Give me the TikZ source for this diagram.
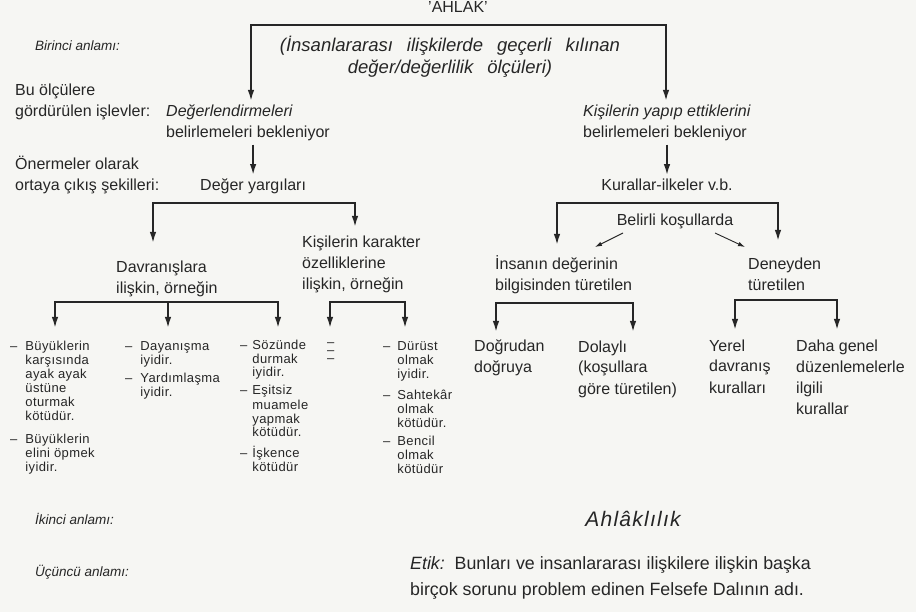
\documentclass[tikz,border=0pt]{standalone}
\usepackage{fontspec}
\setmainfont{Liberation Sans}
\newfontfamily\listfont[LetterSpace=3]{Liberation Sans}
\newfontfamily\wideitalic[LetterSpace=6]{Liberation Sans Italic}
\usetikzlibrary{arrows.meta}
\definecolor{paper}{RGB}{246,246,243}
\definecolor{ink}{RGB}{38,38,38}
\newcommand\widespace{\spaceskip=14pt\relax}

\begin{document}
\begin{tikzpicture}[x=1pt,y=-1pt,
  lbl/.style={inner sep=0pt,anchor=base west,align=left,text=ink,font=\fontsize{16}{21}\selectfont},
  ital/.style={lbl,font=\fontsize{13.5}{21}\selectfont\itshape},
  lst/.style={inner sep=0pt,anchor=base west,text=ink,font=\listfont\fontsize{13}{14}\selectfont},
  arr/.style={draw=ink,line width=1.8pt,-{Latex[length=11pt,width=6.5pt]}},
  thin/.style={draw=ink,line width=0.9pt,-{Latex[length=7pt,width=4.5pt]}}]
\fill[paper] (0,0) rectangle (916,612);
\useasboundingbox (0,0) rectangle (916,612);

% labels on the left
\node(birinci)[ital] at (35,51){Birinci anlamı:};
\node(islev)[lbl] at (15,117){Bu ölçülere\\gördürülen işlevler:};
\node(onerme)[lbl] at (15,191){Önermeler olarak\\ortaya çıkış şekilleri:};
\node(ikinci)[ital] at (35,524){İkinci anlamı:};
\node(ucuncu)[ital] at (35,576){Üçüncü anlamı:};

% first meaning
\node(ahlak)[lbl,anchor=base] at (458,13){'AHLÂK'};
\node(tanim)[lbl,anchor=base,align=center,font=\fontsize{18.5}{22}\selectfont\itshape\widespace] at (450,74){(İnsanlararası ilişkilerde geçerli kılınan\\değer/değerlilik ölçüleri)};
\node(degerl)[lbl] at (166,138){\textit{Değerlendirmeleri}\\belirlemeleri bekleniyor};
\node(kisiyap)[lbl] at (583,138){\textit{Kişilerin yapıp ettiklerini}\\belirlemeleri bekleniyor};
\node(deger)[lbl] at (200,191){Değer yargıları};
\node(kurallar)[lbl,anchor=base] at (667,191){Kurallar-ilkeler v.b.};

% value judgements
\node(davr)[lbl] at (116,294){Davranışlara\\ilişkin, örneğin};
\node(kisikar)[lbl] at (302,290){Kişilerin karakter\\özelliklerine\\ilişkin, örneğin};
\node(col1)[lst] at (10,351){\begin{tabular}[t]{@{}l@{\hspace{8pt}}l@{}}
– & Büyüklerin\\ & karşısında\\ & ayak ayak\\ & üstüne\\ & oturmak\\ & kötüdür.\\[9pt]
– & Büyüklerin\\ & elini öpmek\\ & iyidir.\end{tabular}};
\node(col2)[lst] at (125,351){\begin{tabular}[t]{@{}l@{\hspace{8pt}}l@{}}
– & Dayanışma\\ & iyidir.\\[4pt]
– & Yardımlaşma\\ & iyidir.\end{tabular}};
\node(col3)[lst] at (240,349){\begin{tabular}[t]{@{}l@{\hspace{5pt}}l@{}}
– & Sözünde\\ & durmak\\ & iyidir.\\[4pt]
– & Eşitsiz\\ & muamele\\ & yapmak\\ & kötüdür.\\[5pt]
– & İşkence\\ & kötüdür\end{tabular}};
\node(col4)[lst] at (327,347){\begin{tabular}[t]{@{}l@{}}–\\[-6pt]–\\[-6pt]–\end{tabular}};
\node(col5)[lst] at (383,351){\begin{tabular}[t]{@{}l@{\hspace{7pt}}l@{}}
– & Dürüst\\ & olmak\\ & iyidir.\\[7pt]
– & Sahtekâr\\ & olmak\\ & kötüdür.\\[4pt]
– & Bencil\\ & olmak\\ & kötüdür\end{tabular}};

% rules
\node(belirli)[lbl,anchor=base] at (675,226){Belirli koşullarda};
\node(insan)[lbl] at (495,291){İnsanın değerinin\\bilgisinden türetilen};
\node(deney)[lbl] at (748,291){Deneyden\\türetilen};
\node(dogru)[lbl] at (474,373){Doğrudan\\doğruya};
\node(dolayli)[lbl] at (578,394){Dolaylı\\(koşullara\\göre türetilen)};
\node(yerel)[lbl] at (709,393){Yerel\\davranış\\kuralları};
\node(genel)[lbl] at (796,414){Daha genel\\düzenlemelerle\\ilgili\\kurallar};

% second and third meaning
\node(ahlakl)[lbl,anchor=base,font=\wideitalic\fontsize{21}{21}\selectfont] at (633,526){Ahlâklılık};
\node(etik)[lbl,font=\fontsize{17.8}{26}\selectfont] at (410,595){\textit{Etik:}\ \ Bunları ve insanlararası ilişkilere ilişkin başka\\birçok sorunu problem edinen Felsefe Dalının adı.};

\coordinate(b0) at (458,25);
\coordinate(b1) at (250,203);
\coordinate(b2) at (667,203);
\coordinate(b3) at (169,302);
\coordinate(b4) at (368,302);
\coordinate(b5) at (565,303);
\coordinate(b6) at (785,300);
\path[arr] (b0) -| ([xshift=85,yshift=37]degerl.base west);
\path[arr] (b0) -| ([xshift=83,yshift=37]kisiyap.base west);
\path[arr,shorten <=3pt,shorten >=4pt] (deger.north |- degerl.south) -- (deger.north);
\path[arr,shorten <=3pt,shorten >=4pt] (kurallar.north |- kisiyap.south) -- (kurallar.north);
\path[arr] (b1) -| ([xshift=37,yshift=51]davr.base west);
\path[arr] (b1) -| ([xshift=53,yshift=63]kisikar.base west);
\path[arr] (b2) -| ([xshift=62,yshift=46]insan.base west);
\path[arr] (b2) -| ([xshift=30,yshift=50]deney.base west);
\path[thin] ([xshift=-52,yshift=-7]belirli.base) -- ([xshift=100,yshift=44]insan.base west);
\path[thin] ([xshift=40,yshift=-7]belirli.base) -- ([xshift=-3,yshift=44]deney.base west);
\path[arr] (b3) -| ([xshift=45,yshift=23]col1.base west);
\path[arr] (b3) -| ([xshift=43,yshift=23]col2.base west);
\path[arr] (b3) -| ([xshift=38,yshift=21]col3.base west);
\path[arr] (b4) -| ([xshift=3,yshift=19]col4.base west);
\path[arr] (b4) -| ([xshift=22,yshift=23]col5.base west);
\path[arr] (b5) -| ([xshift=22,yshift=41]dogru.base west);
\path[arr] (b5) -| ([xshift=55,yshift=62]dolayli.base west);
\path[arr] (b6) -| ([xshift=26,yshift=63]yerel.base west);
\path[arr] (b6) -| ([xshift=41,yshift=84]genel.base west);
\end{tikzpicture}
\end{document}
